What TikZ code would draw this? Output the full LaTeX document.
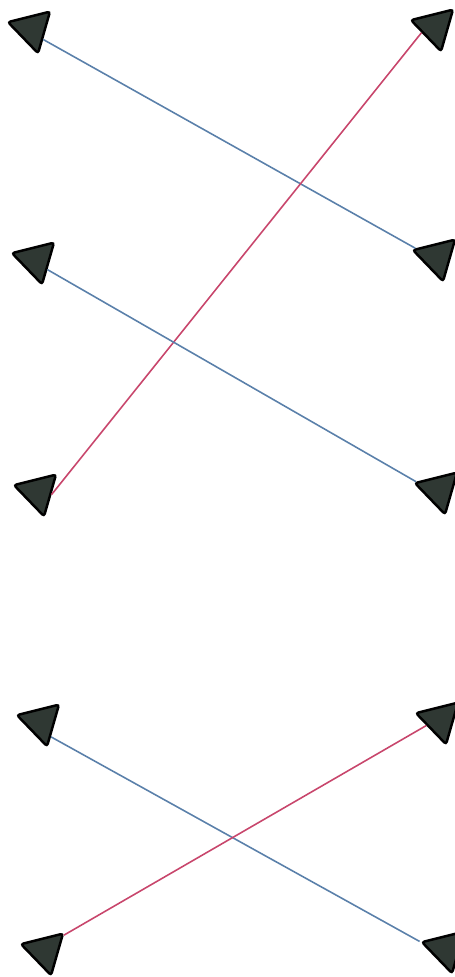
\documentclass[tikz,border=0pt]{standalone}
\usepackage{tikz}
\usetikzlibrary{shapes.geometric}

\definecolor{mkblue}{HTML}{5A80AA}
\definecolor{mkred}{HTML}{C8466C}
\definecolor{mkdark}{HTML}{2F3833}

\begin{document}
\begin{tikzpicture}[x=0.02cm, y=-0.02cm,
  tri/.style={regular polygon, regular polygon sides=3, shape border rotate=74,
    minimum size=1.0cm, inner sep=0pt, draw=black, line width=1.4pt,
    fill=mkdark, rounded corners=1.5pt},
  wire/.style={line width=0.9pt}]
  \useasboundingbox (0,0) rectangle (454,977);

  % upper group
  \node (tl) [tri] at (32,29) {};
  \node (tr) [tri] at (435,27) {};
  \node (ml) [tri] at (36,260) {};
  \node (mr) [tri] at (437,257) {};
  \node (ll) [tri] at (38,492) {};
  \node (lr) [tri] at (439,490) {};

  % lower group
  \node (ul) [tri] at (41,722) {};
  \node (ur) [tri] at (440,720) {};
  \node (bl) [tri] at (45,951) {};
  \node (br) [tri] at (446,949) {};

  \draw[wire, mkblue] (tl.-43) -- (mr.158);
  \draw[wire, mkred] (ll.-11) -- (tr.203);
  \draw[wire, mkblue] (ml.-40) -- (lr.160);
  \draw[wire, mkblue] (ul.-56) -- (br.164);
  \draw[wire, mkred] (bl.40) -- (ur.202);
\end{tikzpicture}
\end{document}
